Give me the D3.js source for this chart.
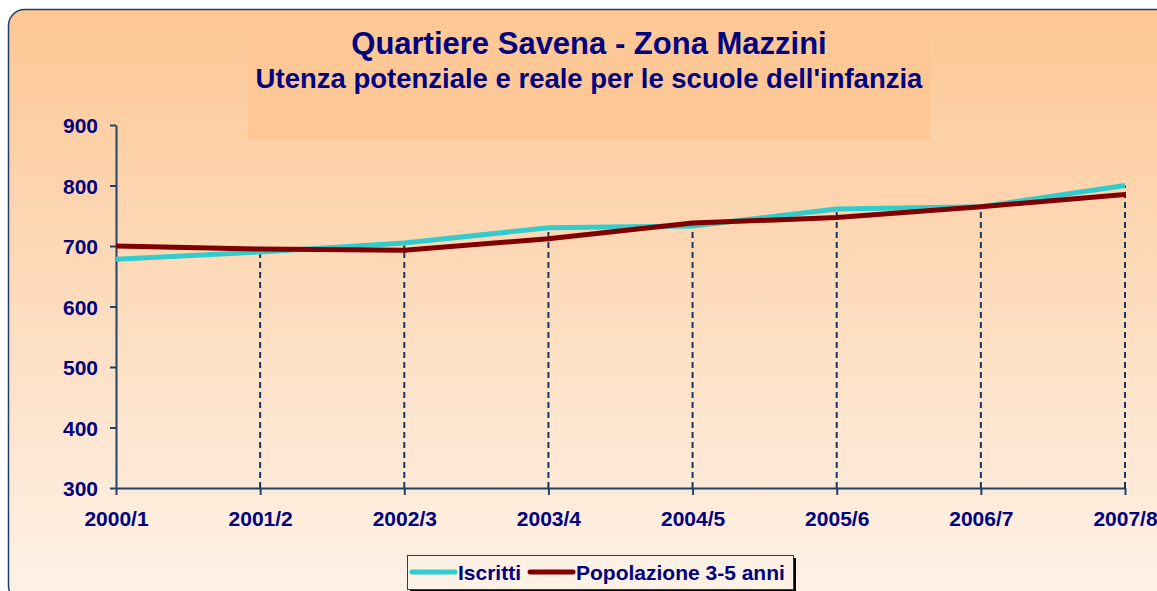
<!DOCTYPE html>
<html lang="it">
<head>
<meta charset="utf-8">
<script src="https://d3js.org/d3.v7.min.js"></script>
<style>
  body { margin: 0; background: #fff; }
  svg { display: block; font-family: "Liberation Sans", Arial, sans-serif; }
</style>
</head>
<body>
<svg id="chart" width="1157" height="591"></svg>
<script>
// data
var anni = ['2000/1', '2001/2', '2002/3', '2003/4', '2004/5', '2005/6', '2006/7', '2007/8'];
var iscritti = [678, 690, 705, 730, 733, 761, 765, 800];
var popolazione = [700, 695, 693, 712, 738, 747, 765, 785];
var yTicks = [300, 400, 500, 600, 700, 800, 900];

var navy = '#000080', axisCol = '#1f4468';

var svg = d3.select('#chart');

// background panel with gradient
var defs = svg.append('defs');
var grad = defs.append('linearGradient')
  .attr('id', 'bg').attr('x1', 0).attr('y1', 0).attr('x2', 0).attr('y2', 1);
grad.append('stop').attr('offset', '0%').attr('stop-color', '#fdc794');
grad.append('stop').attr('offset', '100%').attr('stop-color', '#fef2e8');

svg.append('rect')
  .attr('x', 8.5).attr('y', 9.5)
  .attr('width', 1180).attr('height', 592)
  .attr('rx', 16).attr('ry', 16)
  .attr('fill', 'url(#bg)')
  .attr('stroke', '#1f3f66').attr('stroke-width', 1.5);

// title box
svg.append('rect')
  .attr('x', 248).attr('y', 20).attr('width', 682).attr('height', 119)
  .attr('fill', '#fdc896');

svg.append('text')
  .attr('x', 589).attr('y', 54)
  .attr('text-anchor', 'middle')
  .attr('fill', navy).attr('font-weight', 'bold').attr('font-size', 31)
  .text('Quartiere Savena - Zona Mazzini');

svg.append('text')
  .attr('x', 589).attr('y', 88)
  .attr('text-anchor', 'middle')
  .attr('fill', navy).attr('font-weight', 'bold').attr('font-size', 27.5)
  .text("Utenza potenziale e reale per le scuole dell'infanzia");

// scales
var x = d3.scalePoint().domain(anni).range([116, 1125]);
var y = d3.scaleLinear().domain([300, 900]).range([488, 125]);

// drop lines
var maxVals = anni.map(function(d, i) { return Math.max(iscritti[i], popolazione[i]); });
svg.append('g').selectAll('line')
  .data(anni.slice(1))
  .enter().append('line')
  .attr('x1', d => x(d)).attr('x2', d => x(d))
  .attr('y1', y(300))
  .attr('y2', function(d) { return y(maxVals[anni.indexOf(d)]); })
  .attr('stroke', '#17375e').attr('stroke-width', 2)
  .attr('stroke-dasharray', '6,4');

// axes
var yAxis = d3.axisLeft(y).tickValues(yTicks).tickSize(6).tickSizeOuter(0).tickPadding(12);
var gy = svg.append('g').attr('transform', 'translate(116,0)').call(yAxis);

var xAxis = d3.axisBottom(x).tickSize(7).tickSizeOuter(0).tickPadding(16);
var gx = svg.append('g').attr('transform', 'translate(0,488)').call(xAxis);

[gx, gy].forEach(function(g) {
  g.select('.domain').attr('stroke', axisCol).attr('stroke-width', 2);
  g.selectAll('.tick line').attr('stroke', axisCol).attr('stroke-width', 2);
  g.selectAll('.tick text')
    .attr('fill', navy).attr('font-weight', 'bold').attr('font-size', 21)
    .attr('font-family', '"Liberation Sans", Arial, sans-serif');
});
gy.selectAll('.tick text').attr('dy', '0.36em');

// lines
var line = d3.line()
  .x(function(d, i) { return x(anni[i]); })
  .y(function(d) { return y(d); });

svg.append('path').datum(iscritti)
  .attr('d', line).attr('fill', 'none')
  .attr('stroke', '#33cccc').attr('stroke-width', 5);

svg.append('path').datum(popolazione)
  .attr('d', line).attr('fill', 'none')
  .attr('stroke', '#800000').attr('stroke-width', 5);

// legend
var leg = svg.append('g');
leg.append('rect')
  .attr('x', 410).attr('y', 558).attr('width', 386).attr('height', 34)
  .attr('fill', '#000');
leg.append('rect')
  .attr('x', 407.5).attr('y', 555.5).attr('width', 386).attr('height', 34)
  .attr('fill', '#fdf1e6').attr('stroke', '#1f3f66').attr('stroke-width', 1);

var items = [
  { name: 'Iscritti', color: '#33cccc', x: 412 },
  { name: 'Popolazione 3-5 anni', color: '#800000', x: 530 }
];
items.forEach(function(it) {
  leg.append('line')
    .attr('x1', it.x).attr('x2', it.x + 43)
    .attr('y1', 572).attr('y2', 572)
    .attr('stroke', it.color).attr('stroke-width', 5).attr('stroke-linecap', 'round');
  leg.append('text')
    .attr('x', it.x + 46).attr('y', 580)
    .attr('fill', navy).attr('font-weight', 'bold').attr('font-size', 21)
    .text(it.name);
});
</script>
</body>
</html>
